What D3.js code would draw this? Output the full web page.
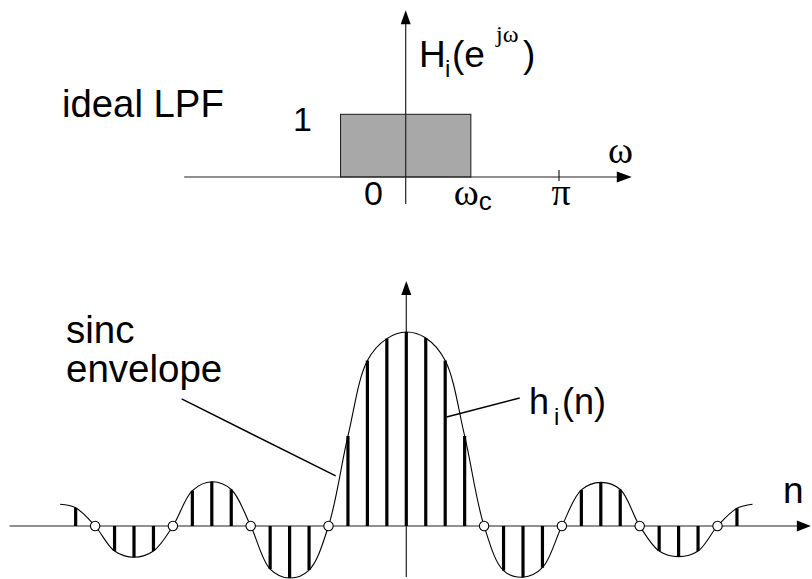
<!DOCTYPE html>
<html>
<head>
<meta charset="utf-8">
<script src="https://cdn.jsdelivr.net/npm/d3@7"></script>
<style>
  html, body { margin: 0; padding: 0; background: #fff; }
  svg { display: block; }
  .sans { font-family: "Liberation Sans", Arial, sans-serif; }
  .serif { font-family: "Liberation Serif", "Times New Roman", serif; }
</style>
</head>
<body>
<svg id="chart" width="812" height="579"></svg>
<script>
// ---------- DATA ----------
// Top panel: ideal low-pass frequency response
const PI = Math.PI;
const omegaC = 0.425 * PI;              // cutoff (as drawn)
const passbandGain = [1];               // H = 1 inside |w| < wc
const omegaAxisDomain = [-1.445 * PI, 1.475 * PI];
const omegaAmpDomain = [-0.43, 2.66];
const omegaTicks = [PI];
const omegaTickLabels = ["π"];

// Bottom panel: impulse response samples h_i(n)
const nValues = [-17,-16,-15,-14,-13,-12,-11,-10,-9,-8,-7,-6,-5,-4,-3,-2,-1,0,
                 1,2,3,4,5,6,7,8,9,10,11,12,13,14,15,16,17];
const hValues = [0.094,0,-0.129,-0.161,-0.129,0,0.182,0.228,0.188,0,-0.222,-0.268,-0.227,0,0.464,0.853,0.966,1.0,
                 0.969,0.853,0.464,0,-0.230,-0.264,-0.215,0,0.186,0.225,0.188,0,-0.129,-0.158,-0.129,0,0.091];
// envelope end points (curve extends slightly past the last samples)
const envelopeEndN = [-17.8, 17.8];
const envelopeEndH = [0.112, 0.112];
const nAxisDomain = [-20.4, 20.8];
const hAxisDomain = [-0.263, 1.263];

// annotation anchors in data units
const sincLeader = { from: [-11.55, 0.655], to: [-3.63, 0.258] };
const hLeader    = { from: [5.83, 0.660],  to: [2.07, 0.562] };

// ---------- SCALES ----------
const svg = d3.select("#chart");

const xw = d3.scaleLinear().domain([0, PI]).range([405.7, 559]);
const yw = d3.scaleLinear().domain([0, 1]).range([177, 114.3]);

const xn = d3.scaleLinear().domain([0, 1]).range([406.3, 425.75]);
const yn = d3.scaleLinear().domain([0, 1]).range([526, 332]);

const axisColor = "#222";

function arrowHead(g, x, y, dir, len, half) {
  let pts;
  if (dir === "right") pts = [[x, y], [x - len, y - half], [x - len, y + half]];
  else pts = [[x, y], [x - half, y + len], [x + half, y + len]];
  g.append("path").attr("d", d3.line()(pts) + "Z").attr("fill", "#000");
}

// ---------- TOP PANEL ----------
const topG = svg.append("g");

// passband rectangle
topG.append("rect")
  .attr("x", xw(-omegaC))
  .attr("y", yw(passbandGain[0]))
  .attr("width", xw(omegaC) - xw(-omegaC))
  .attr("height", yw(0) - yw(passbandGain[0]))
  .attr("fill", "#a8a8a8")
  .attr("stroke", "#1a1a1a")
  .attr("stroke-width", 1);

// axes
topG.append("line")
  .attr("x1", xw(omegaAxisDomain[0])).attr("x2", xw(omegaAxisDomain[1]) - 10)
  .attr("y1", yw(0)).attr("y2", yw(0))
  .attr("stroke", axisColor).attr("stroke-width", 1.2);
arrowHead(topG, xw(omegaAxisDomain[1]), yw(0), "right", 15, 5.5);

topG.append("line")
  .attr("x1", xw(0)).attr("x2", xw(0))
  .attr("y1", yw(omegaAmpDomain[0])).attr("y2", yw(omegaAmpDomain[1]) + 10)
  .attr("stroke", axisColor).attr("stroke-width", 1.2);
arrowHead(topG, xw(0), yw(omegaAmpDomain[1]), "up", 14, 5);

// pi tick
topG.selectAll(".wtick").data(omegaTicks).enter().append("line")
  .attr("x1", d => xw(d)).attr("x2", d => xw(d))
  .attr("y1", yw(0) - 7).attr("y2", yw(0) + 4)
  .attr("stroke", axisColor).attr("stroke-width", 1.2);

topG.selectAll(".wlabel").data(omegaTicks).enter().append("text")
  .attr("class", "serif")
  .attr("x", d => xw(d) + 2).attr("y", 205)
  .attr("text-anchor", "middle")
  .attr("font-size", 38)
  .text((d, i) => omegaTickLabels[i]);

// labels
topG.append("text").attr("class", "sans").attr("x", 62).attr("y", 117)
  .attr("font-size", 38.3).text("ideal LPF");
topG.append("text").attr("class", "sans").attr("x", 293).attr("y", 131)
  .attr("font-size", 34).text("1");
topG.append("text").attr("class", "sans").attr("x", 364).attr("y", 205)
  .attr("font-size", 34).text("0");
// omega_c
topG.append("text").attr("class", "serif").attr("x", xw(omegaC) - 17).attr("y", 205)
  .attr("font-size", 38).text("ω");
topG.append("text").attr("class", "sans").attr("x", xw(omegaC) + 8).attr("y", 210)
  .attr("font-size", 26).text("c");
// axis label omega
topG.append("text").attr("class", "serif").attr("x", 608).attr("y", 163)
  .attr("font-size", 38).text("ω");
// H_i(e^{jw})
topG.append("text").attr("class", "sans").attr("x", 419).attr("y", 67)
  .attr("font-size", 37).text("H");
topG.append("text").attr("class", "sans").attr("x", 445).attr("y", 77)
  .attr("font-size", 24).text("i");
topG.append("text").attr("class", "sans").attr("x", 452).attr("y", 67)
  .attr("font-size", 37).text("(e");
topG.append("text").attr("class", "serif").attr("x", 496).attr("y", 42)
  .attr("font-size", 24).text("jω");
topG.append("text").attr("class", "sans").attr("x", 523).attr("y", 67)
  .attr("font-size", 37).text(")");

// ---------- BOTTOM PANEL ----------
const botG = svg.append("g");

// axes
botG.append("line")
  .attr("x1", xn(nAxisDomain[0])).attr("x2", xn(nAxisDomain[1]) - 8)
  .attr("y1", yn(0)).attr("y2", yn(0))
  .attr("stroke", axisColor).attr("stroke-width", 1.2);
arrowHead(botG, xn(nAxisDomain[1]), yn(0), "right", 14, 5.5);

botG.append("line")
  .attr("x1", xn(0)).attr("x2", xn(0))
  .attr("y1", yn(hAxisDomain[0])).attr("y2", yn(hAxisDomain[1]) + 10)
  .attr("stroke", axisColor).attr("stroke-width", 1.2);
arrowHead(botG, xn(0), yn(hAxisDomain[1]), "up", 14, 5);

// envelope
const envPts = [[envelopeEndN[0], envelopeEndH[0]]]
  .concat(nValues.map((n, i) => [n, hValues[i]]))
  .concat([[envelopeEndN[1], envelopeEndH[1]]]);
botG.append("path")
  .attr("d", d3.line().x(d => xn(d[0])).y(d => yn(d[1])).curve(d3.curveCatmullRom.alpha(0.5))(envPts))
  .attr("fill", "none").attr("stroke", "#000").attr("stroke-width", 1.1);

// stems
const samples = nValues.map((n, i) => ({ n, h: hValues[i] }));
botG.selectAll(".stem").data(samples.filter(d => d.h !== 0)).enter().append("line")
  .attr("x1", d => xn(d.n)).attr("x2", d => xn(d.n))
  .attr("y1", yn(0)).attr("y2", d => yn(d.h))
  .attr("stroke", "#000").attr("stroke-width", 3.2);

// zero samples
botG.selectAll(".zero").data(samples.filter(d => d.h === 0)).enter().append("circle")
  .attr("cx", d => xn(d.n)).attr("cy", yn(0)).attr("r", 4.7)
  .attr("fill", "#fff").attr("stroke", "#000").attr("stroke-width", 1.1);

// leaders
[sincLeader, hLeader].forEach(L => {
  botG.append("line")
    .attr("x1", xn(L.from[0])).attr("y1", yn(L.from[1]))
    .attr("x2", xn(L.to[0])).attr("y2", yn(L.to[1]))
    .attr("stroke", "#000").attr("stroke-width", 1.4);
});

// labels
botG.append("text").attr("class", "sans").attr("x", 66).attr("y", 343)
  .attr("font-size", 38.5).text("sinc");
botG.append("text").attr("class", "sans").attr("x", 66).attr("y", 382)
  .attr("font-size", 38.5).text("envelope");
botG.append("text").attr("class", "sans").attr("x", 529).attr("y", 414)
  .attr("font-size", 36).text("h");
botG.append("text").attr("class", "sans").attr("x", 554).attr("y", 425)
  .attr("font-size", 24).text("i");
botG.append("text").attr("class", "sans").attr("x", 562).attr("y", 414)
  .attr("font-size", 36).text("(n)");
botG.append("text").attr("class", "sans").attr("x", 783).attr("y", 503)
  .attr("font-size", 37).text("n");
</script>
</body>
</html>
